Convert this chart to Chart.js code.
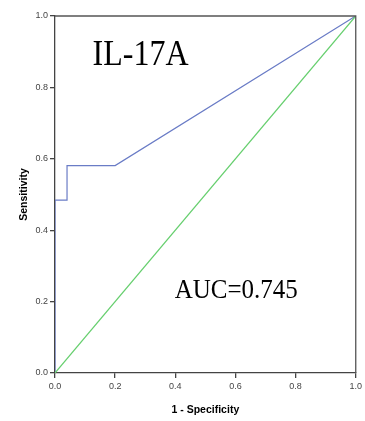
<!DOCTYPE html>
<html>
<head>
<meta charset="utf-8">
<script src="https://cdn.jsdelivr.net/npm/chart.js@4/dist/chart.umd.min.js"></script>
<style>
html,body{margin:0;padding:0;background:#fff;}
#wrap{width:365px;height:421px;position:relative;}
</style>
</head>
<body>
<div id="wrap"><canvas id="c" width="365" height="421"></canvas></div>
<script>
// ROC curve for IL-17A
const rocX = [0, 0, 0.04, 0.04, 0.2, 1.0];          // 1 - Specificity
const rocY = [0, 0.484, 0.484, 0.581, 0.581, 1.0];  // Sensitivity
const refX = [0, 1];
const refY = [0, 1];
const tickValues = [0, 0.2, 0.4, 0.6, 0.8, 1.0];
const titleText = "IL-17A";
const aucText = "AUC=0.745";
const xTitle = "1 - Specificity";
const yTitle = "Sensitivity";

const toPts = (xs, ys) => xs.map((x, i) => ({x: x, y: ys[i]}));

const framePlugin = {
  id: 'frame',
  afterDatasetsDraw(chart) {
    const {ctx, chartArea: a} = chart;
    ctx.save();
    ctx.strokeStyle = '#555';
    ctx.lineWidth = 1.3;
    ctx.beginPath();
    ctx.moveTo(a.left, a.top);
    ctx.lineTo(a.right, a.top);
    ctx.lineTo(a.right, a.bottom);
    ctx.stroke();
    ctx.restore();
  },
  afterDraw(chart) {
    const {ctx} = chart;
    const xs = chart.scales.x, ys = chart.scales.y;
    ctx.save();
    ctx.fillStyle = '#000';
    ctx.textBaseline = 'alphabetic';
    ctx.textAlign = 'left';
    // IL-17A label
    ctx.save();
    ctx.translate(xs.getPixelForValue(0.125), ys.getPixelForValue(0.862));
    ctx.scale(1, 1.12);
    ctx.font = '32px "Liberation Serif", "Times New Roman", serif';
    ctx.fillText(titleText, 0, 0);
    ctx.restore();
    // AUC label
    ctx.save();
    ctx.translate(xs.getPixelForValue(0.398), ys.getPixelForValue(0.21));
    ctx.scale(1, 1.06);
    ctx.font = '25px "Liberation Serif", "Times New Roman", serif';
    ctx.fillText(aucText, 0, 0);
    ctx.restore();
    ctx.restore();
  }
};

new Chart(document.getElementById('c'), {
  type: 'scatter',
  data: {
    datasets: [
      {
        data: toPts(refX, refY),
        showLine: true,
        borderColor: '#66cf6e',
        borderWidth: 1.2,
        pointRadius: 0,
        tension: 0
      },
      {
        data: toPts(rocX, rocY),
        showLine: true,
        borderColor: '#6a7cc6',
        borderWidth: 1.2,
        pointRadius: 0,
        tension: 0
      }
    ]
  },
  options: {
    responsive: false,
    animation: false,
    devicePixelRatio: 1,
    layout: {padding: {top: 16, right: 9, left: 18, bottom: 5}},
    plugins: {legend: {display: false}, tooltip: {enabled: false}},
    scales: {
      x: {
        type: 'linear',
        min: 0, max: 1,
        afterBuildTicks: s => { s.ticks = tickValues.map(v => ({value: v})); },
        afterFit: s => { s.height = 43; },
        border: {display: true, color: '#444', width: 1.3},
        grid: {drawOnChartArea: false, drawTicks: true, tickLength: 5, tickColor: '#444', lineWidth: 1.3},
        ticks: {
          color: '#444', padding: 3, maxRotation: 0,
          font: {family: '"Liberation Sans", Arial, sans-serif', size: 9},
          callback: v => v.toFixed(1)
        },
        title: {
          display: true, text: xTitle, color: '#000',
          font: {family: '"Liberation Sans", Arial, sans-serif', size: 10.5, weight: 'bold'},
          padding: {top: 12, bottom: 0}
        }
      },
      y: {
        type: 'linear',
        min: 0, max: 1,
        afterBuildTicks: s => { s.ticks = tickValues.map(v => ({value: v})); },
        afterFit: s => { s.width = 37; },
        border: {display: true, color: '#444', width: 1.3},
        grid: {drawOnChartArea: false, drawTicks: true, tickLength: 5, tickColor: '#444', lineWidth: 1.3},
        ticks: {
          color: '#444', padding: 2,
          font: {family: '"Liberation Sans", Arial, sans-serif', size: 9},
          callback: v => v.toFixed(1)
        },
        title: {
          display: true, text: yTitle, color: '#000',
          font: {family: '"Liberation Sans", Arial, sans-serif', size: 10.5, weight: 'bold'},
          padding: {top: 0, bottom: 4}
        }
      }
    }
  },
  plugins: [framePlugin]
});
</script>
</body>
</html>
